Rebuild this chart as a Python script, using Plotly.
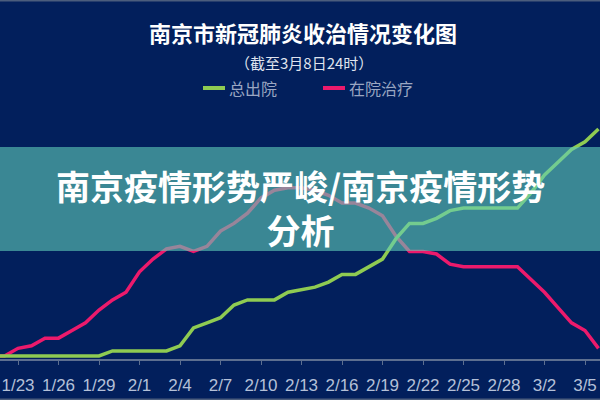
import pandas as pd
import plotly.graph_objects as go

# ---- data ----
dates = pd.date_range("2020-01-21", "2020-03-06", freq="D")
in_hospital = [0,
    0, 3, 4, 7, 7, 10, 13, 18, 22, 25,
    33, 38, 42, 43, 41, 43, 49, 52, 56, 62,
    65, 66, 66, 65, 63, 60, 60, 58, 55, 47,
    41, 41, 40, 36, 35, 35, 35, 35, 35,
    30, 25, 19, 13, 10, 3]
discharged = [0,
    0, 0, 0, 0, 0, 0, 0, 0, 2, 2,
    2, 2, 2, 4, 11, 13, 15, 20, 22, 22,
    22, 25, 26, 27, 29, 32, 32, 35, 38, 46,
    52, 52, 54, 57, 58, 58, 58, 58, 58,
    64, 71, 76, 81, 84, 89]
series_names = ["总出院", "在院治疗"]
title_text = "南京市新冠肺炎收治情况变化图"
subtitle_text = "（截至3月8日24时）"
banner_text = "南京疫情形势严峻/南京疫情形势<br>分析"

GREEN = "#8fcb52"
PINK = "#ec1a6c"
BG = "#021f5c"
AXIS = "#5d6f90"

H, T, B = 400, 110, 41
PH = H - T - B


def py(ypx):
    return (H - B - ypx) / PH


fig = go.Figure()
fig.add_trace(go.Scatter(x=dates, y=in_hospital, mode="lines", name=series_names[1],
                         line=dict(color=PINK, width=3.5), showlegend=False))
fig.add_trace(go.Scatter(x=dates, y=discharged, mode="lines", name=series_names[0],
                         line=dict(color=GREEN, width=3.5), showlegend=False))

shapes = [
    # translucent banner
    dict(type="rect", xref="paper", yref="paper", x0=0, x1=1, y0=py(251), y1=py(147),
         fillcolor="rgba(97,205,185,0.6)", line=dict(width=0), layer="above"),
    # legend keys
    dict(type="line", xref="paper", yref="paper", x0=203/600, x1=225/600, y0=py(88), y1=py(88),
         line=dict(color=GREEN, width=4)),
    dict(type="line", xref="paper", yref="paper", x0=323/600, x1=345/600, y0=py(88), y1=py(88),
         line=dict(color=PINK, width=4)),
    # thin frame lines
    dict(type="line", xref="paper", yref="paper", x0=0, x1=1, y0=py(0.75), y1=py(0.75),
         line=dict(color="#4b5d7d", width=1.5)),
    dict(type="line", xref="paper", yref="paper", x0=0, x1=1, y0=py(399.25), y1=py(399.25),
         line=dict(color="#4b5d7d", width=1.5)),
]

cjk = "Noto Sans CJK SC, Noto Sans, sans-serif"
annotations = [
    dict(text="<b>" + title_text + "</b>", xref="paper", yref="paper", x=303/600, y=py(32),
         xanchor="center", yanchor="middle", showarrow=False,
         font=dict(family=cjk, size=22, color="#ffffff")),
    dict(text=subtitle_text, xref="paper", yref="paper", x=304/600, y=py(62),
         xanchor="center", yanchor="middle", showarrow=False,
         font=dict(family=cjk, size=15, color="#dfe3ee")),
    dict(text=series_names[0], xref="paper", yref="paper", x=227/600, y=py(88),
         xanchor="left", yanchor="middle", showarrow=False,
         font=dict(family=cjk, size=16, color="#9aa6c2")),
    dict(text=series_names[1], xref="paper", yref="paper", x=347/600, y=py(88),
         xanchor="left", yanchor="middle", showarrow=False,
         font=dict(family=cjk, size=16, color="#9aa6c2")),
    dict(text="<b>" + banner_text + "</b>", xref="paper", yref="paper", x=0.5, y=py(207),
         xanchor="center", yanchor="middle", showarrow=False, align="center",
         font=dict(family=cjk, size=34, color="#ffffff")),
]

fig.update_layout(
    width=600, height=400,
    margin=dict(l=0, r=0, t=T, b=B, pad=0),
    paper_bgcolor=BG, plot_bgcolor=BG,
    shapes=shapes, annotations=annotations,
    showlegend=False,
    xaxis=dict(type="date", range=["2020-01-21 16:00", "2020-03-06 02:40"],
               tick0="2020-01-23", dtick=3 * 86400000, tickformat="%-m/%-d",
               ticks="outside", ticklen=4, tickcolor=AXIS, tickwidth=1,
               showline=True, linecolor=AXIS, linewidth=1.5,
               showgrid=False, zeroline=False, ticklabelstandoff=6,
               tickfont=dict(family="Liberation Sans Narrow, Arial Narrow, sans-serif",
                             size=17, color="#b4c0d8")),
    yaxis=dict(range=[-1.18, 96.47], visible=False, showgrid=False, zeroline=False),
)

fig.write_html("out.html")
